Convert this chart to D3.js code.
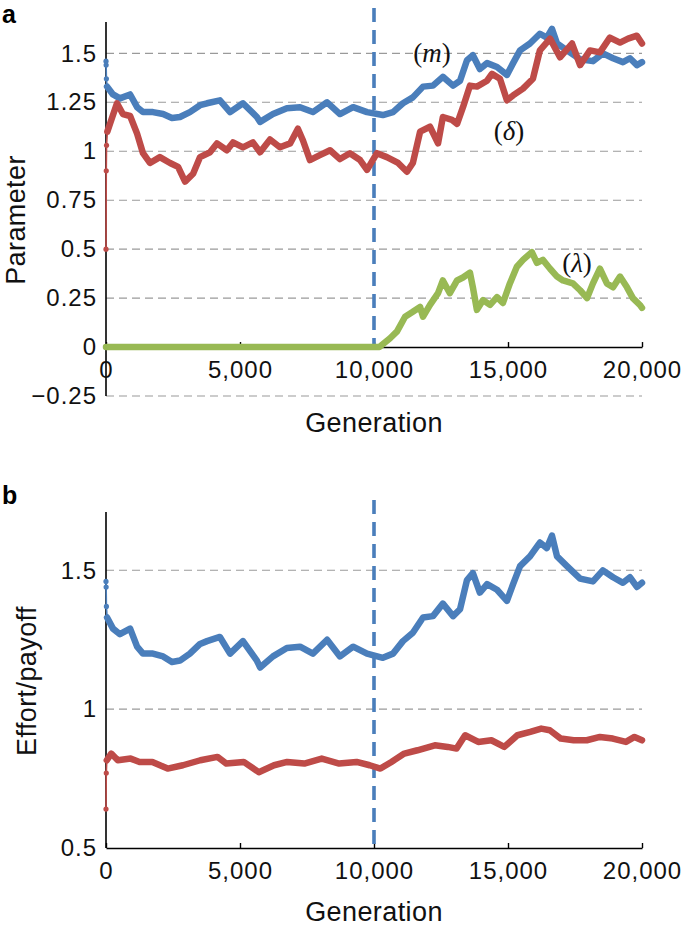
<!DOCTYPE html>
<html>
<head>
<meta charset="utf-8">
<script src="https://cdn.jsdelivr.net/npm/d3@7"></script>
<style>
  html, body { margin: 0; padding: 0; background: #fff; }
  svg { display: block; }
  .tick-label { font-family: "Liberation Sans", Arial, Helvetica, sans-serif; font-size: 24px; fill: #111; letter-spacing: 1px; }
  .axis-title { font-family: "Liberation Sans", Arial, Helvetica, sans-serif; font-size: 27px; fill: #111; letter-spacing: 0.4px; }
  .panel-label { font-family: "Liberation Sans", Arial, Helvetica, sans-serif; font-size: 25px; font-weight: bold; fill: #000; }
  .series-label { font-family: "Liberation Serif", "Times New Roman", serif; font-size: 27px; fill: #111; }
</style>
</head>
<body>
<svg id="chart" width="685" height="927"></svg>
<script>
// ---------------- DATA ----------------
const xTicks = [0, 5000, 10000, 15000, 20000];
const xTickLabels = ["0", "5,000", "10,000", "15,000", "20,000"];
const aYTicks = [-0.25, 0, 0.25, 0.5, 0.75, 1, 1.25, 1.5];
const aYTickLabels = ["\u22120.25", "0", "0.25", "0.5", "0.75", "1", "1.25", "1.5"];
const bYTicks = [0.5, 1, 1.5];
const bYTickLabels = ["0.5", "1", "1.5"];
const switchGeneration = 10000;

// (m) effort — also the blue series in panel b
const mGen = [0, 5, 15, 40, 260, 520, 900, 1160, 1380, 1750, 2130, 2460, 2760, 3130, 3510, 3770, 4250, 4630, 5110, 5630, 5750, 6230, 6750, 7240, 7720, 8250, 8730, 9220, 9740, 10330, 10710, 11080, 11450, 11830, 12200, 12570, 12950, 13210, 13470, 13690, 13950, 14220, 14590, 14960, 15190, 15450, 15820, 16190, 16450, 16640, 16830, 17200, 17690, 18170, 18540, 18920, 19290, 19550, 19810, 20000];
const mVal = [1.46, 1.44, 1.37, 1.33, 1.29, 1.27, 1.29, 1.225, 1.2, 1.2, 1.19, 1.17, 1.175, 1.2, 1.235, 1.245, 1.26, 1.2, 1.245, 1.175, 1.15, 1.19, 1.22, 1.225, 1.2, 1.25, 1.19, 1.225, 1.2, 1.185, 1.2, 1.245, 1.275, 1.33, 1.335, 1.38, 1.335, 1.36, 1.465, 1.49, 1.42, 1.45, 1.43, 1.39, 1.45, 1.515, 1.55, 1.6, 1.58, 1.625, 1.55, 1.515, 1.47, 1.46, 1.5, 1.475, 1.455, 1.475, 1.44, 1.455];
const mInit = 3;

// (delta)
const dGen = [0, 10, 20, 50, 150, 410, 630, 900, 1160, 1380, 1640, 2010, 2390, 2690, 2950, 3250, 3510, 3880, 4140, 4510, 4740, 5110, 5480, 5750, 6120, 6490, 6870, 7160, 7350, 7610, 7980, 8360, 8730, 9100, 9480, 9740, 10110, 10480, 10900, 11230, 11450, 11720, 12090, 12390, 12570, 12910, 13100, 13320, 13580, 13840, 14220, 14400, 14700, 14960, 15190, 15560, 15930, 16190, 16570, 16940, 17390, 17690, 18060, 18430, 18800, 19180, 19480, 19810, 20000];
const dVal = [0.5, 0.9, 1.03, 1.1, 1.14, 1.245, 1.19, 1.18, 1.09, 0.99, 0.94, 0.97, 0.94, 0.92, 0.845, 0.885, 0.97, 0.995, 1.04, 1.005, 1.045, 1.02, 1.045, 0.995, 1.06, 1.02, 1.04, 1.115, 1.055, 0.955, 0.98, 1.005, 0.96, 0.99, 0.955, 0.905, 0.99, 0.97, 0.94, 0.895, 0.94, 1.1, 1.125, 1.04, 1.175, 1.16, 1.14, 1.225, 1.335, 1.33, 1.36, 1.395, 1.37, 1.26, 1.285, 1.32, 1.37, 1.515, 1.575, 1.48, 1.55, 1.44, 1.515, 1.505, 1.58, 1.555, 1.575, 1.59, 1.55];
const dInit = 3;

// (lambda)
const lGen = [0, 5000, 10200, 10600, 10860, 11160, 11450, 11720, 11830, 12090, 12390, 12570, 12830, 13100, 13320, 13580, 13690, 13840, 14070, 14330, 14590, 14810, 15070, 15330, 15560, 15890, 16080, 16300, 16570, 16830, 17050, 17420, 17690, 17950, 18170, 18430, 18690, 18920, 19180, 19440, 19660, 19920, 20000];
const lVal = [0, 0, 0, 0.045, 0.08, 0.155, 0.18, 0.205, 0.155, 0.215, 0.275, 0.34, 0.275, 0.34, 0.355, 0.38, 0.305, 0.19, 0.24, 0.215, 0.255, 0.225, 0.325, 0.41, 0.445, 0.485, 0.43, 0.445, 0.4, 0.36, 0.34, 0.325, 0.29, 0.25, 0.325, 0.4, 0.325, 0.305, 0.36, 0.305, 0.25, 0.215, 0.2];

// payoff (panel b, red)
const pGen = [0, 10, 30, 195, 440, 920, 1250, 1730, 2300, 2870, 3520, 4160, 4490, 5140, 5700, 6270, 6760, 7400, 8050, 8700, 9350, 9840, 10240, 10650, 11130, 11620, 12270, 12750, 13080, 13400, 13890, 14380, 14860, 15350, 15830, 16240, 16560, 16970, 17450, 17940, 18430, 18910, 19400, 19720, 20000];
const pVal = [0.64, 0.77, 0.816, 0.84, 0.816, 0.822, 0.81, 0.81, 0.786, 0.798, 0.816, 0.828, 0.804, 0.81, 0.773, 0.798, 0.81, 0.804, 0.822, 0.804, 0.81, 0.798, 0.786, 0.81, 0.84, 0.852, 0.87, 0.864, 0.858, 0.906, 0.882, 0.888, 0.864, 0.906, 0.918, 0.93, 0.924, 0.894, 0.888, 0.888, 0.9, 0.894, 0.882, 0.9, 0.888];
const pInit = 2;

// ---------------- STYLE ----------------
const BLUE = "#4A7EBB", RED = "#BE4B48", GREEN = "#98B954";
const svg = d3.select("#chart");

function drawPanel(opt) {
  const g = svg.append("g");
  const x = d3.scaleLinear().domain([0, 20000]).range([106, 642]);
  const y = d3.scaleLinear().domain(opt.yDomain).range(opt.yRange);

  // gridlines (dashed)
  g.append("g").selectAll("line").data(opt.yTicks.filter(v => v !== opt.xAxisAt))
    .join("line")
    .attr("x1", x(0)).attr("x2", x(20000))
    .attr("y1", d => y(d)).attr("y2", d => y(d))
    .attr("stroke", "#9a9a9a").attr("stroke-width", 1.1).attr("stroke-dasharray", "8,5");

  // y axis (labels only, no ticks)
  const yAxis = d3.axisLeft(y).tickValues(opt.yTicks)
    .tickFormat((d, i) => opt.yTickLabels[i]).tickSize(0).tickPadding(9);
  const ya = g.append("g").attr("transform", `translate(${x(0)},0)`).call(yAxis);
  ya.select(".domain").remove();
  ya.selectAll("text").attr("class", "tick-label").attr("font-size", null).attr("font-family", null).attr("fill", null);
  g.append("line").attr("x1", x(0)).attr("x2", x(0))
    .attr("y1", y(opt.yDomain[1])).attr("y2", y(opt.yDomain[0]))
    .attr("stroke", "#000").attr("stroke-width", 1.6);

  // x axis at value opt.xAxisAt, ticks pointing up
  const xAxis = d3.axisBottom(x).tickValues(xTicks)
    .tickFormat((d, i) => xTickLabels[i]).tickSizeInner(-5).tickSizeOuter(0).tickPadding(14);
  const xa = g.append("g").attr("transform", `translate(0,${y(opt.xAxisAt)})`).call(xAxis);
  xa.select(".domain").attr("stroke", "#000").attr("stroke-width", 1.6);
  xa.selectAll(".tick line").attr("stroke", "#000").attr("stroke-width", 1.4);
  xa.selectAll("text").attr("class", "tick-label").attr("font-size", null).attr("font-family", null).attr("fill", null)
    .attr("dy", null).attr("y", 31);

  // switch line
  g.append("line").attr("x1", x(switchGeneration)).attr("x2", x(switchGeneration))
    .attr("y1", opt.switchTop).attr("y2", y(opt.xAxisAt))
    .attr("stroke", BLUE).attr("stroke-width", 3.6).attr("stroke-dasharray", "14,8");

  // series
  const line = d3.line().x(d => x(d[0])).y(d => y(d[1]));
  opt.series.forEach(s => {
    const pts = s.gen.map((gv, i) => [gv, s.val[i]]);
    const initPts = pts.slice(0, s.init + 1);
    const mainPts = pts.slice(s.init);
    if (s.init > 0) {
      g.append("path").attr("d", line(initPts)).attr("fill", "none")
        .attr("stroke", s.color).attr("stroke-width", 1.6);
      g.append("g").selectAll("circle").data(pts.slice(0, s.init)).join("circle")
        .attr("cx", d => x(d[0])).attr("cy", d => y(d[1])).attr("r", 2.6).attr("fill", s.color);
    }
    g.append("path").attr("d", line(mainPts)).attr("fill", "none")
      .attr("stroke", s.color).attr("stroke-width", 6.5)
      .attr("stroke-linejoin", "round").attr("stroke-linecap", "round");
  });

  // titles
  g.append("text").attr("class", "axis-title").attr("text-anchor", "middle")
    .attr("x", (x(0) + x(20000)) / 2).attr("y", opt.xTitleY).text("Generation");
  g.append("text").attr("class", "axis-title").attr("text-anchor", "middle")
    .attr("transform", `translate(${opt.yTitleX},${opt.yTitleY}) rotate(-90)`).text(opt.yTitle);
  g.append("text").attr("class", "panel-label").attr("x", 2).attr("y", opt.panelLabelY).text(opt.panelLabel);
  return { x, y, g };
}

const A = drawPanel({
  yDomain: [-0.25, 1.66], yRange: [396, 22],
  yTicks: aYTicks, yTickLabels: aYTickLabels, xAxisAt: 0,
  switchTop: 8,
  series: [
    { gen: mGen, val: mVal, color: BLUE, init: mInit },
    { gen: dGen, val: dVal, color: RED, init: dInit },
    { gen: lGen, val: lVal, color: GREEN, init: 0 }
  ],
  xTitleY: 432, yTitle: "Parameter", yTitleX: 25, yTitleY: 220,
  panelLabel: "a", panelLabelY: 23
});

// series labels in panel a
function seriesLabel(cx, by, sym, italic) {
  const t = svg.append("text").attr("class", "series-label").attr("text-anchor", "middle")
    .attr("x", cx).attr("y", by);
  t.append("tspan").text("(");
  t.append("tspan").attr("font-style", italic ? "italic" : "normal").text(sym);
  t.append("tspan").text(")");
}
seriesLabel(432, 62, "m", true);
seriesLabel(509, 140, "\u03B4", true);
seriesLabel(577, 272, "\u03BB", true);

const B = drawPanel({
  yDomain: [0.5, 1.71], yRange: [848, 512],
  yTicks: bYTicks, yTickLabels: bYTickLabels, xAxisAt: 0.5,
  switchTop: 500,
  series: [
    { gen: mGen, val: mVal, color: BLUE, init: mInit },
    { gen: pGen, val: pVal, color: RED, init: pInit }
  ],
  xTitleY: 921, yTitle: "Effort/payoff", yTitleX: 36, yTitleY: 681,
  panelLabel: "b", panelLabelY: 504
});
</script>
</body>
</html>
